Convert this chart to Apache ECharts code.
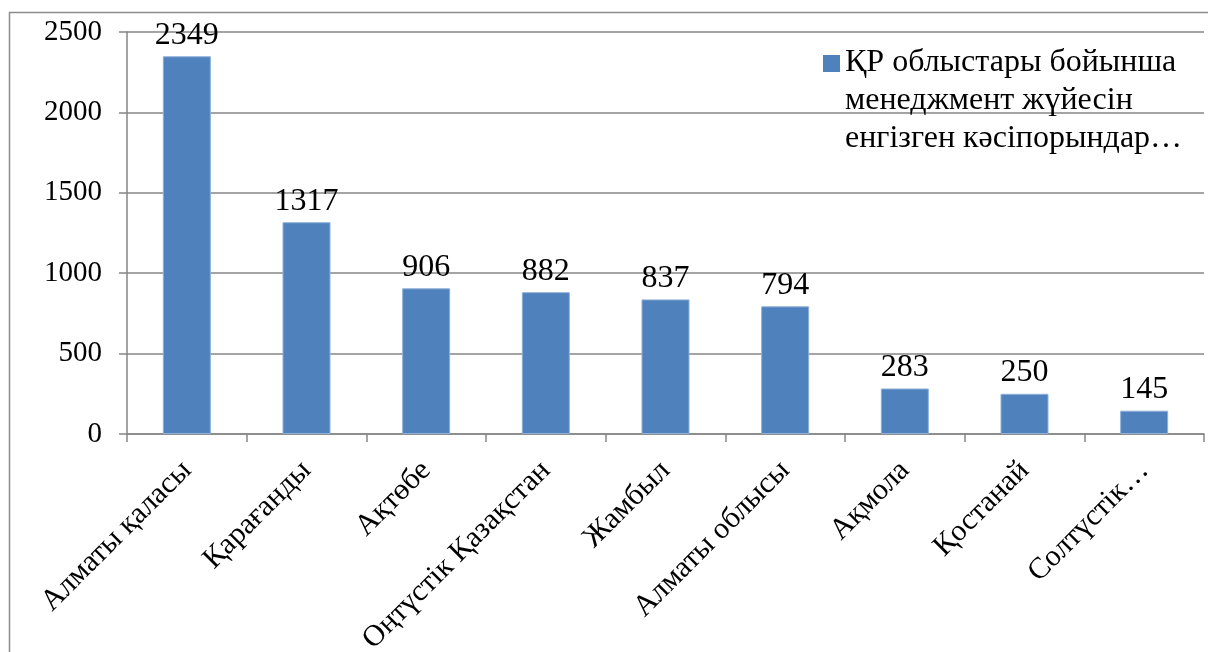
<!DOCTYPE html>
<html><head><meta charset="utf-8">
<script src="https://cdn.jsdelivr.net/npm/echarts@6/dist/echarts.min.js"></script>
<style>html,body{margin:0;padding:0;background:#fff}#c{width:1208px;height:652px}</style>
</head><body><div id="c"></div>
<script>
const categories = ["Алматы қаласы","Қарағанды","Ақтөбе","Оңтүстік Қазақстан","Жамбыл","Алматы облысы","Ақмола","Қостанай","Солтүстік…"];
const values = [2349,1317,906,882,837,794,283,250,145];
const seriesName = "ҚР облыстары бойынша менеджмент жүйесін енгізген кәсіпорындар…";
const legendText = "ҚР облыстары бойынша\nменеджмент жүйесін\nенгізген кәсіпорындар…";
const yTicks = [0,500,1000,1500,2000,2500];
const font = '"Liberation Serif","DejaVu Serif","Times New Roman",serif';
// square icon sitting at the first text line; tiny corner specks fix the box size
const legendIcon = 'path://M0,0h0.01v0.01h-0.01Z M0,11H17V28H0Z M16.99,113.99h0.01v0.01h-0.01Z';
const chart = echarts.init(document.getElementById('c'));
chart.setOption({
  animation:false,
  graphic:[{type:'rect',shape:{x:9.5,y:12.5,width:1210,height:660},style:{fill:'none',stroke:'#8c8c8c',lineWidth:1.5},silent:true}],
  legend:{show:true,left:823,top:44,orient:'vertical',itemWidth:17,itemHeight:114,itemGap:0,padding:0,
    itemStyle:{borderWidth:0,color:'#4F81BD'},
    textStyle:{fontFamily:font,fontSize:32,color:'#000',lineHeight:38},
    formatter:()=>legendText, data:[{name:seriesName,icon:legendIcon}]},
  grid:{left:127,top:32,right:4,bottom:218,containLabel:false,outerBoundsMode:'none'},
  xAxis:{type:'category',data:categories,
    axisLine:{lineStyle:{color:'#868686',width:1.5}},
    axisTick:{show:true,length:8,lineStyle:{color:'#868686',width:1.5},alignWithLabel:false},
    axisLabel:{rotate:45,interval:0,margin:32,color:'#000',fontFamily:font,fontSize:30},
    splitLine:{show:false}},
  yAxis:{type:'value',min:yTicks[0],max:yTicks[yTicks.length-1],interval:500,
    axisLine:{show:true,lineStyle:{color:'#868686',width:1.5}},
    axisTick:{show:true,length:8,lineStyle:{color:'#868686',width:1.5}},
    axisLabel:{margin:25,color:'#000',fontFamily:font,fontSize:29,formatter:v=>String(v)},
    splitLine:{show:true,lineStyle:{color:'#868686',width:1.5}}},
  series:[{name:seriesName,type:'bar',data:values,barWidth:48,
    itemStyle:{color:'#4F81BD',borderColor:'#8fb0d8',borderWidth:1},
    label:{show:true,position:'top',distance:5,color:'#000',fontFamily:font,fontSize:32}}]
});
</script></body></html>
